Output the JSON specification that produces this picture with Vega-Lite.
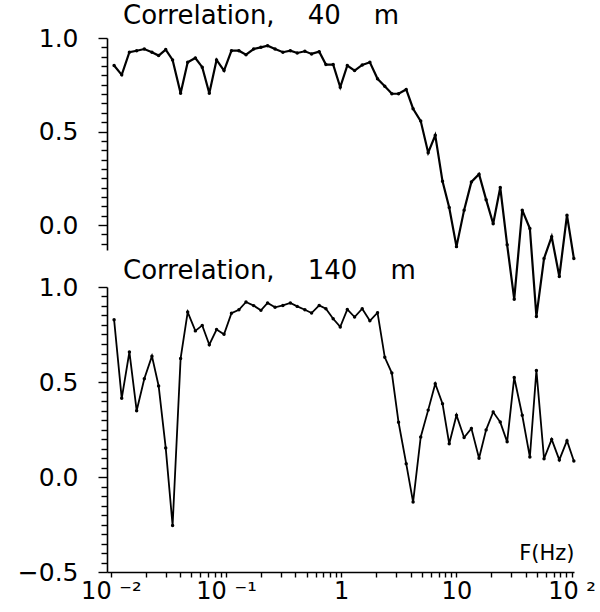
{
  "$schema": "https://vega.github.io/schema/vega-lite/v6.json",
  "autosize": {"type": "pad"},
  "padding": {"left": 17, "top": 2, "right": 0, "bottom": 0},
  "background": "white",
  "config": {
    "view": {"stroke": null},
    "font": "DejaVu Sans",
    "axis": {
      "domainColor": "black", "tickColor": "black", "labelColor": "black", "titleColor": "black",
      "domainWidth": 1.6, "tickWidth": 1.4, "grid": false,
      "labelFont": "DejaVu Sans", "titleFont": "DejaVu Sans"
    }
  },
  "datasets": {
    "corr": [
      {"f": 0.01067, "c40": 0.853, "c140": 0.828},
      {"f": 0.01243, "c40": 0.803, "c140": 0.414},
      {"f": 0.01449, "c40": 0.924, "c140": 0.658},
      {"f": 0.01675, "c40": 0.932, "c140": 0.349},
      {"f": 0.01952, "c40": 0.941, "c140": 0.517},
      {"f": 0.02274, "c40": 0.924, "c140": 0.636},
      {"f": 0.026, "c40": 0.906, "c140": 0.479},
      {"f": 0.02995, "c40": 0.938, "c140": 0.153},
      {"f": 0.03437, "c40": 0.883, "c140": -0.255},
      {"f": 0.04034, "c40": 0.705, "c140": 0.624},
      {"f": 0.04647, "c40": 0.87, "c140": 0.868},
      {"f": 0.05416, "c40": 0.893, "c140": 0.769},
      {"f": 0.06216, "c40": 0.844, "c140": 0.798},
      {"f": 0.07158, "c40": 0.705, "c140": 0.696},
      {"f": 0.08276, "c40": 0.883, "c140": 0.776},
      {"f": 0.09607, "c40": 0.826, "c140": 0.751},
      {"f": 0.1115, "c40": 0.932, "c140": 0.862},
      {"f": 0.1294, "c40": 0.932, "c140": 0.88},
      {"f": 0.1491, "c40": 0.911, "c140": 0.921},
      {"f": 0.1737, "c40": 0.941, "c140": 0.902},
      {"f": 0.2009, "c40": 0.95, "c140": 0.877},
      {"f": 0.2296, "c40": 0.959, "c140": 0.916},
      {"f": 0.2665, "c40": 0.941, "c140": 0.893},
      {"f": 0.3118, "c40": 0.924, "c140": 0.903},
      {"f": 0.3618, "c40": 0.932, "c140": 0.916},
      {"f": 0.4152, "c40": 0.92, "c140": 0.898},
      {"f": 0.4838, "c40": 0.929, "c140": 0.88},
      {"f": 0.5531, "c40": 0.915, "c140": 0.863},
      {"f": 0.6443, "c40": 0.927, "c140": 0.903},
      {"f": 0.7366, "c40": 0.858, "c140": 0.886},
      {"f": 0.8518, "c40": 0.858, "c140": 0.833},
      {"f": 0.9811, "c40": 0.737, "c140": 0.79},
      {"f": 1.13, "c40": 0.853, "c140": 0.882},
      {"f": 1.307, "c40": 0.826, "c140": 0.842},
      {"f": 1.522, "c40": 0.856, "c140": 0.886},
      {"f": 1.774, "c40": 0.87, "c140": 0.822},
      {"f": 2.067, "c40": 0.782, "c140": 0.865},
      {"f": 2.39, "c40": 0.742, "c140": 0.63},
      {"f": 2.753, "c40": 0.702, "c140": 0.547},
      {"f": 3.147, "c40": 0.702, "c140": 0.288},
      {"f": 3.667, "c40": 0.725, "c140": 0.07},
      {"f": 4.209, "c40": 0.622, "c140": -0.132},
      {"f": 4.903, "c40": 0.556, "c140": 0.211},
      {"f": 5.69, "c40": 0.387, "c140": 0.352},
      {"f": 6.555, "c40": 0.48, "c140": 0.491},
      {"f": 7.58, "c40": 0.234, "c140": 0.386},
      {"f": 8.666, "c40": 0.094, "c140": 0.175},
      {"f": 10.02, "c40": -0.115, "c140": 0.325},
      {"f": 11.67, "c40": 0.08, "c140": 0.208},
      {"f": 13.5, "c40": 0.231, "c140": 0.256},
      {"f": 15.73, "c40": 0.272, "c140": 0.099},
      {"f": 18.12, "c40": 0.136, "c140": 0.248},
      {"f": 20.87, "c40": 0.007, "c140": 0.342},
      {"f": 24.04, "c40": 0.201, "c140": 0.289},
      {"f": 27.59, "c40": -0.105, "c140": 0.185},
      {"f": 31.78, "c40": -0.396, "c140": 0.524},
      {"f": 37.31, "c40": 0.08, "c140": 0.325},
      {"f": 43.46, "c40": -0.018, "c140": 0.105},
      {"f": 49.52, "c40": -0.488, "c140": 0.561},
      {"f": 57.68, "c40": -0.178, "c140": 0.096},
      {"f": 67.2, "c40": -0.062, "c140": 0.198},
      {"f": 78.29, "c40": -0.275, "c140": 0.09},
      {"f": 91.25, "c40": 0.053, "c140": 0.191},
      {"f": 104.7, "c40": -0.178, "c140": 0.084}
    ]
  },
  "bounds": "flush",
  "spacing": 37,
  "vconcat": [
    {
      "width": 467,
      "height": 212,
      "title": {
        "text": "Correlation,\u00a0\u00a0\u00a0\u00a040\u00a0\u00a0\u00a0\u00a0m",
        "anchor": "start", "frame": "group", "dx": 16, "offset": -23.5,
        "baseline": "alphabetic", "fontSize": 26, "fontWeight": "normal",
        "font": "DejaVu Sans", "color": "black"
      },
      "data": {"name": "corr"},
      "encoding": {
        "x": {"field": "f", "type": "quantitative",
              "scale": {"type": "log", "domain": [0.00926, 105], "nice": false},
              "axis": null},
        "y": {"field": "c40", "type": "quantitative",
              "scale": {"domain": [-0.133, 1.0], "nice": false, "zero": false},
              "axis": {
                "title": null,
                "values": [-0.1, -0.05, 0, 0.05, 0.1, 0.15, 0.2, 0.25, 0.3, 0.35, 0.4, 0.45, 0.5, 0.55, 0.6, 0.65, 0.7, 0.75, 0.8, 0.85, 0.9, 0.95, 1],
                "labelExpr": "abs(datum.value*2 - round(datum.value*2)) < 0.001 ? format(datum.value, '.1f') : ''",
                "tickSize": {"condition": {"test": "abs(datum.value*2 - round(datum.value*2)) < 0.001", "value": 9}, "value": 6},
                "labelPadding": 20, "labelFontSize": 25, "labelOverlap": false, "labelFlush": false
              }}
      },
      "layer": [
        {"mark": {"type": "line", "color": "black", "strokeWidth": 2.2, "clip": false}},
        {"mark": {"type": "point", "filled": true, "color": "black", "size": 12, "opacity": 1, "clip": false}}
      ]
    },
    {
      "width": 467,
      "height": 285,
      "title": {
        "text": "Correlation,\u00a0\u00a0\u00a0\u00a0140\u00a0\u00a0\u00a0\u00a0m",
        "anchor": "start", "frame": "group", "dx": 16, "offset": -29.5,
        "baseline": "alphabetic", "fontSize": 26, "fontWeight": "normal",
        "font": "DejaVu Sans", "color": "black"
      },
      "data": {"name": "corr"},
      "encoding": {
        "x": {"field": "f", "type": "quantitative",
              "scale": {"type": "log", "domain": [0.00926, 105], "nice": false},
              "axis": {
                "title": "F(Hz)", "titleX": 467, "titleY": -13, "titleAlign": "right", "titleAnchor": "end",
                "titleBaseline": "alphabetic", "titleFontSize": 21, "titleFontWeight": "normal",
                "values": [0.01, 0.02, 0.03, 0.04, 0.05, 0.06, 0.07, 0.08, 0.09, 0.1, 0.2, 0.3, 0.4, 0.5, 0.6, 0.7, 0.8, 0.9, 1, 2, 3, 4, 5, 6, 7, 8, 9, 10, 20, 30, 40, 50, 60, 70, 80, 90, 100],
                "labelExpr": "abs(datum.value-0.01)<1e-6 ? '10 \u207b\u00b2' : abs(datum.value-0.1)<1e-6 ? '10 \u207b\u00b9' : abs(datum.value-1)<1e-6 ? '1' : abs(datum.value-10)<1e-6 ? '10' : abs(datum.value-100)<1e-6 ? '10 \u00b2' : ''",
                "tickSize": 5, "labelPadding": 2, "labelFontSize": 24, "labelOverlap": false, "labelFlush": false
              }},
        "y": {"field": "c140", "type": "quantitative",
              "scale": {"domain": [-0.5, 1.0], "nice": false, "zero": false},
              "axis": {
                "title": null,
                "values": [-0.5, -0.45, -0.4, -0.35, -0.3, -0.25, -0.2, -0.15, -0.1, -0.05, 0, 0.05, 0.1, 0.15, 0.2, 0.25, 0.3, 0.35, 0.4, 0.45, 0.5, 0.55, 0.6, 0.65, 0.7, 0.75, 0.8, 0.85, 0.9, 0.95, 1],
                "labelExpr": "abs(datum.value*2 - round(datum.value*2)) < 0.001 ? format(datum.value, '.1f') : ''",
                "tickSize": {"condition": {"test": "abs(datum.value*2 - round(datum.value*2)) < 0.001", "value": 9}, "value": 6},
                "labelPadding": 20, "labelFontSize": 25, "labelOverlap": false, "labelFlush": false
              }}
      },
      "layer": [
        {"mark": {"type": "line", "color": "black", "strokeWidth": 1.8, "clip": false}},
        {"mark": {"type": "point", "filled": true, "color": "black", "size": 12, "opacity": 1, "clip": false}}
      ]
    }
  ]
}
